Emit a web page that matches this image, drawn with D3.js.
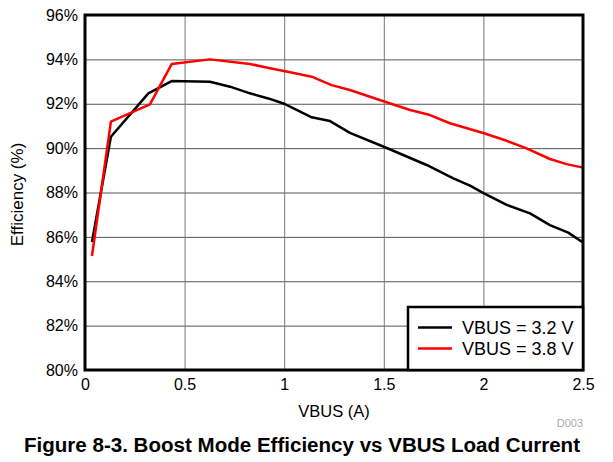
<!DOCTYPE html>
<html>
<head>
<meta charset="utf-8">
<script src="https://d3js.org/d3.v7.min.js"></script>
<style>
  body { margin: 0; background: #fff; }
  text { font-family: "Liberation Sans", Arial, sans-serif; }
</style>
</head>
<body>
<svg width="613" height="462"></svg>
<script>
// load current (A) and efficiency (%)
var current32 = [0.035, 0.13, 0.318, 0.435, 0.627, 0.728, 0.828, 0.92, 1.0, 1.08, 1.138, 1.23, 1.33, 1.506, 1.715, 1.849, 1.933, 2.003, 2.117, 2.234, 2.334, 2.426, 2.5];
var eff32 = [85.77, 90.51, 92.47, 93.02, 92.99, 92.77, 92.47, 92.24, 92.0, 91.64, 91.39, 91.22, 90.69, 90.04, 89.24, 88.64, 88.31, 87.96, 87.44, 87.06, 86.53, 86.19, 85.75];

var current38 = [0.035, 0.13, 0.326, 0.435, 0.627, 0.828, 0.929, 1.03, 1.138, 1.238, 1.33, 1.506, 1.632, 1.732, 1.832, 2.003, 2.117, 2.217, 2.334, 2.418, 2.5];
var eff38 = [85.14, 91.19, 91.97, 93.79, 94.0, 93.79, 93.6, 93.42, 93.22, 92.84, 92.62, 92.09, 91.72, 91.49, 91.12, 90.67, 90.33, 89.99, 89.51, 89.28, 89.12];

var xTicks = [0, 0.5, 1, 1.5, 2, 2.5];
var yTicks = [80, 82, 84, 86, 88, 90, 92, 94, 96];
var seriesNames = ["VBUS = 3.2 V", "VBUS = 3.8 V"];
var seriesColors = ["#000000", "#ff0000"];

var svg = d3.select("svg"),
    margin = {top: 15, right: 30, bottom: 92, left: 85},
    width = +svg.attr("width") - margin.left - margin.right,
    height = +svg.attr("height") - margin.top - margin.bottom;

var x = d3.scaleLinear().domain([0, 2.5]).range([0, width]),
    y = d3.scaleLinear().domain([80, 96]).range([height, 0]);

var g = svg.append("g")
    .attr("transform", "translate(" + margin.left + "," + margin.top + ")");

// grid
g.append("g")
    .call(d3.axisLeft(y).tickValues(yTicks).tickSize(-width).tickFormat(""))
    .call(function(s) { s.select(".domain").remove(); })
    .selectAll("line").attr("stroke", "#555").attr("stroke-width", 1);

g.append("g")
    .attr("transform", "translate(0," + height + ")")
    .call(d3.axisBottom(x).tickValues(xTicks).tickSize(height).tickFormat(""))
    .call(function(s) { s.select(".domain").remove(); })
    .selectAll("line").attr("stroke", "#777").attr("stroke-width", 1)
    .attr("y2", -height);

// tick labels
g.append("g")
    .call(d3.axisLeft(y).tickValues(yTicks).tickSize(0).tickPadding(7)
        .tickFormat(function(d) { return d + "%"; }))
    .call(function(s) { s.select(".domain").remove(); })
    .selectAll("text").attr("font-size", 16).attr("fill", "#000")
    .attr("font-family", "Liberation Sans, Arial, sans-serif");

g.append("g")
    .attr("transform", "translate(0," + height + ")")
    .call(d3.axisBottom(x).tickValues(xTicks).tickSize(0).tickPadding(9)
        .tickFormat(d3.format("")))
    .call(function(s) { s.select(".domain").remove(); })
    .selectAll("text").attr("font-size", 16).attr("fill", "#000")
    .attr("font-family", "Liberation Sans, Arial, sans-serif");

// curves
var line = d3.line()
    .x(function(d) { return x(d[0]); })
    .y(function(d) { return y(d[1]); });

var series = [d3.zip(current32, eff32), d3.zip(current38, eff38)];

g.selectAll(".curve")
    .data(series)
    .enter()
    .append("path")
    .attr("class", "curve")
    .attr("fill", "none")
    .attr("stroke", function(d, i) { return seriesColors[i]; })
    .attr("stroke-width", 2.5)
    .attr("stroke-linejoin", "round")
    .attr("d", line);

// frame
g.append("rect")
    .attr("width", width).attr("height", height)
    .attr("fill", "none").attr("stroke", "#000").attr("stroke-width", 3);

// legend
var lg = g.append("g").attr("transform", "translate(" + (width - 175) + "," + (height - 63) + ")");
lg.append("rect")
    .attr("width", 175).attr("height", 63)
    .attr("fill", "#fff").attr("stroke", "#000").attr("stroke-width", 2.5);
seriesNames.forEach(function(name, i) {
    var ly = 20.5 + i * 21;
    lg.append("line")
        .attr("x1", 10).attr("x2", 44).attr("y1", ly).attr("y2", ly)
        .attr("stroke", seriesColors[i]).attr("stroke-width", 2.5);
    lg.append("text")
        .attr("x", 54).attr("y", ly).attr("dy", "0.35em")
        .attr("font-size", 18).text(name);
});

// axis titles
svg.append("text")
    .attr("x", margin.left + width / 2).attr("y", 417)
    .attr("text-anchor", "middle").attr("font-size", 16.5)
    .text("VBUS (A)");

svg.append("text")
    .attr("transform", "translate(23," + (margin.top + height / 2 + 2) + ") rotate(-90)")
    .attr("text-anchor", "middle").attr("font-size", 17)
    .text("Efficiency (%)");

svg.append("text")
    .attr("x", 583).attr("y", 427)
    .attr("text-anchor", "end").attr("font-size", 11).attr("fill", "#aaa")
    .text("D003");

svg.append("text")
    .attr("x", 302).attr("y", 452)
    .attr("text-anchor", "middle").attr("font-size", 19.5).attr("font-weight", "bold")
    .attr("textLength", 556).attr("lengthAdjust", "spacingAndGlyphs")
    .text("Figure 8-3. Boost Mode Efficiency vs VBUS Load Current");
</script>
</body>
</html>
